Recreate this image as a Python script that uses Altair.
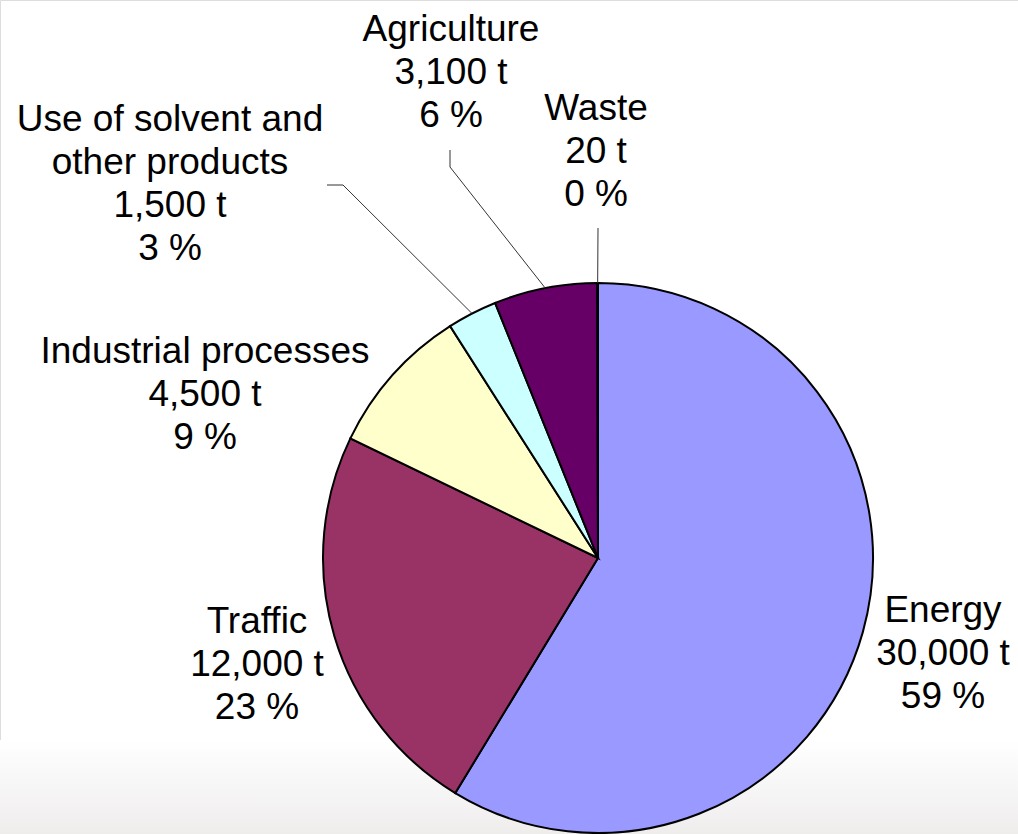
import altair as alt
import numpy as np
import pandas as pd

# ---- data ----
categories = ["Energy", "Traffic", "Industrial processes",
              "Use of solvent and\nother products", "Agriculture", "Waste"]
values = [30000, 12000, 4500, 1500, 3100, 20]
colors = ["#9999FF", "#993366", "#FFFFCC", "#CCFFFF", "#660066", "#FF8080"]

# ---- layout (pixels) ----
W, H = 1018, 834
CX, CY, R = 598, 558, 275
# label anchor: centre x, first-line baseline y
label_pos = {
    "Energy": (943, 622),
    "Traffic": (257, 633),
    "Industrial processes": (205, 363),
    "Use of solvent and\nother products": (170, 131),
    "Agriculture": (451, 41),
    "Waste": (596, 120),
}
# leader elbow points
leader_elbows = {
    "Use of solvent and\nother products": [(327, 185), (343, 185)],
    "Agriculture": [(450, 150), (450, 167)],
    "Waste": [(598, 228)],
}

total = sum(values)
pct = [round(v / total * 100) for v in values]
df = pd.DataFrame({
    "category": categories,
    "value": values,
    "idx": list(range(len(values))),
})

# labels
lab_rows = []
for c, v, p in zip(categories, values, pct):
    x, y = label_pos[c]
    lab_rows.append({"label": f"{c}\n{v:,} t\n{p} %", "px": x, "py": y})
lab_df = pd.DataFrame(lab_rows)

# leader lines: end at slice mid-angle on the pie edge
cum = np.cumsum([0] + values)
line_rows = []
for i, c in enumerate(categories):
    if c not in leader_elbows:
        continue
    mid = (cum[i] + cum[i + 1]) / 2 / total * 2 * np.pi
    ex = CX + R * np.sin(mid)
    ey = CY - R * np.cos(mid)
    pts = leader_elbows[c] + [(ex, ey)]
    for k, (x, y) in enumerate(pts):
        line_rows.append({"cat": c, "k": k, "px": x, "py": y})
line_df = pd.DataFrame(line_rows)

bg = alt.Chart(pd.DataFrame({"a": [0]})).mark_rect(
    fill=alt.Gradient(
        gradient="linear",
        stops=[alt.GradientStop(color="#ffffff", offset=0),
               alt.GradientStop(color="#f7f6f6", offset=0.5),
               alt.GradientStop(color="#efecec", offset=1)],
        x1=0, x2=0, y1=0, y2=1,
    ),
    strokeWidth=0,
).encode(x=alt.value(0), x2=alt.value(W), y=alt.value(740), y2=alt.value(H))

pie = alt.Chart(df).mark_arc(outerRadius=R, stroke="black", strokeWidth=2).encode(
    theta=alt.Theta("value:Q", stack=True),
    order=alt.Order("idx:Q"),
    color=alt.Color("category:N", scale=alt.Scale(domain=categories, range=colors), legend=None),
    x=alt.value(CX),
    y=alt.value(CY),
)

lines = alt.Chart(line_df).mark_line(color="#333333", strokeWidth=1).encode(
    x=alt.X("px:Q", scale=None),
    y=alt.Y("py:Q", scale=None),
    detail="cat:N",
    order="k:Q",
)

text = alt.Chart(lab_df).mark_text(
    font="Liberation Sans", fontSize=37, align="center", baseline="alphabetic",
    lineBreak="\n", lineHeight=43, color="black",
).encode(
    x=alt.X("px:Q", scale=None),
    y=alt.Y("py:Q", scale=None),
    text="label:N",
)

chart = alt.layer(bg, pie, lines, text).properties(
    width=W, height=H, padding=0, autosize="none"
).configure_view(stroke=None).configure(background="white")

chart.save("out.html", embed_options={"renderer": "svg", "actions": False})
